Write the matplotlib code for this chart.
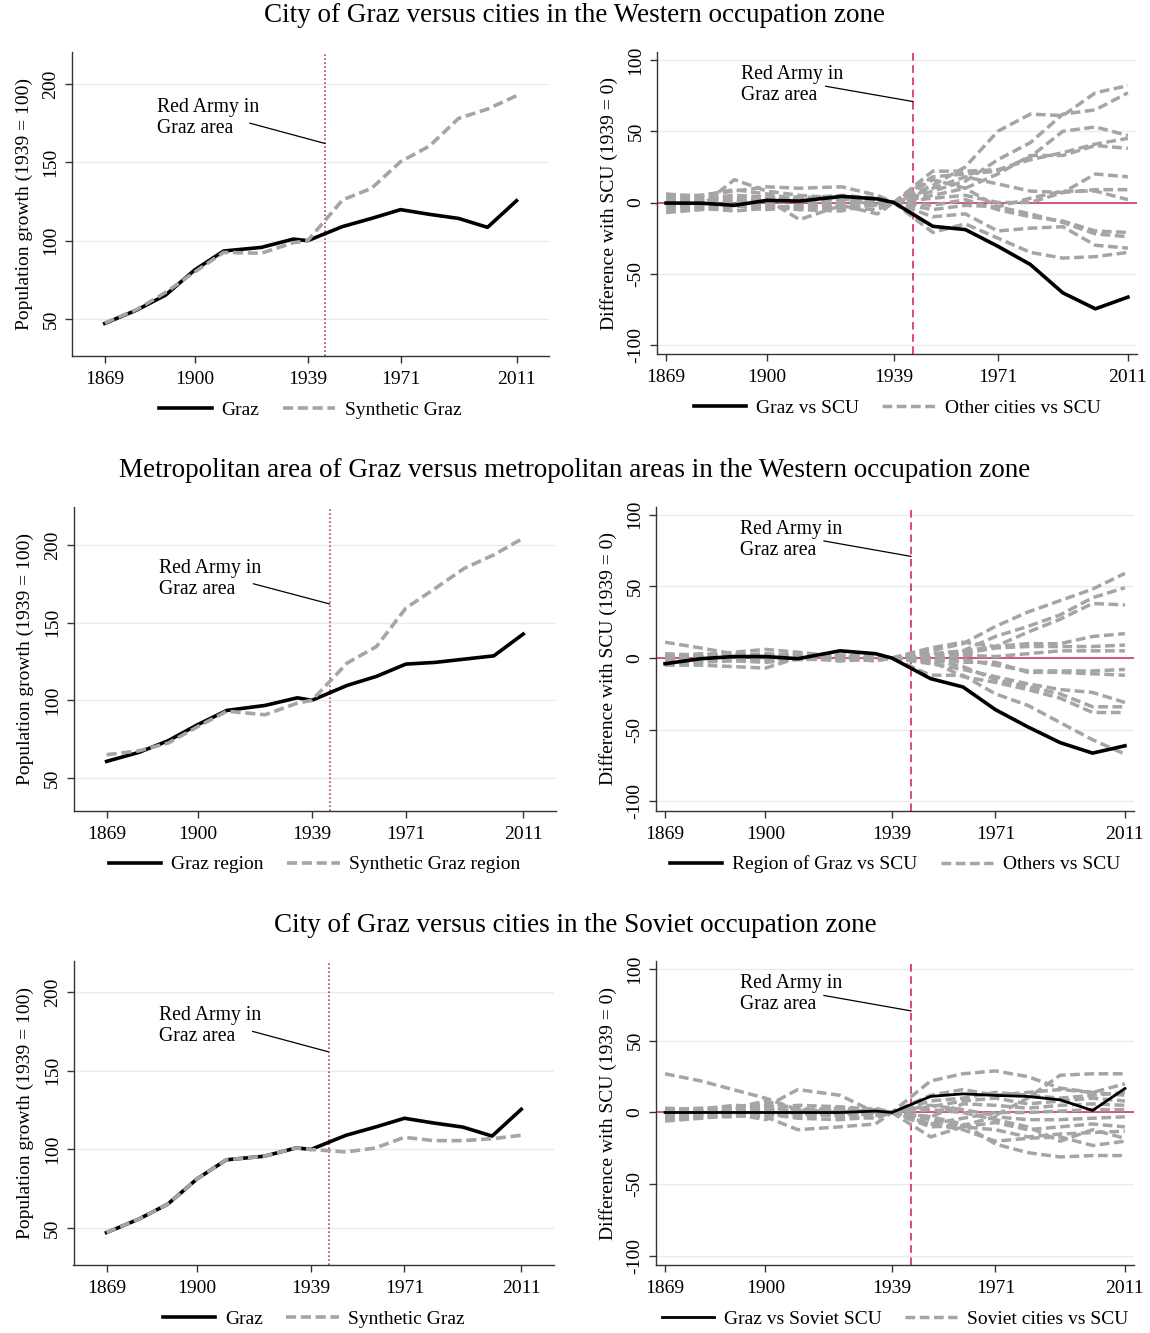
import matplotlib.pyplot as plt

plt.rcParams['font.family'] = ['Liberation Serif', 'DejaVu Serif']
plt.rcParams['font.size'] = 14

# census years
years = [1869, 1880, 1890, 1900, 1910, 1923, 1934, 1939, 1951, 1961, 1971, 1981, 1991, 2001, 2011]
year_ticks = [1869, 1900, 1939, 1971, 2011]
red_army = 1945

# population index (1939 = 100)
graz_city = [47.2, 55.7, 65.3, 81.3, 93.4, 95.7, 101.0, 100, 109.0, 114.2, 119.8, 116.8, 114.2, 108.5, 125.5]
synth_city_west = [47.5, 56.0, 67.0, 80.0, 92.5, 92.0, 98.7, 100, 126.0, 133.4, 150.4, 160.4, 178.0, 184.0, 192.5]
graz_region = [60.7, 66.5, 74.0, 84.3, 93.5, 96.7, 101.6, 100, 109.6, 115.4, 123.3, 124.4, 126.5, 128.6, 142.6]
synth_region = [65.0, 67.5, 72.5, 83.0, 93.0, 90.7, 98.2, 100, 124.0, 134.6, 159.3, 172.0, 185.0, 193.6, 204.3]
synth_city_soviet = [47.2, 55.7, 65.3, 81.3, 93.4, 95.7, 101.0, 100, 98.4, 100.9, 107.7, 105.6, 105.6, 106.8, 109.0]

# gaps to synthetic control units (1939 = 0)
graz_gap_west = [-0.4, -0.5, -2.0, 1.5, 1.0, 4.3, 2.5, 0, -16.7, -19.0, -30.7, -43.5, -63.4, -74.6, -66.4]
others_gap_west = [
    [2, 3, 5, 4, 3, 2, 1, 0, 12, 25, 50, 62, 61, 77, 82],
    [-3, -2, 16, 8, 5, 3, -2, 0, 8, 15, 30, 42, 62, 65, 77],
    [5, 5, 8, 11, 10, 11, 5, 0, 18, 20, 22, 32, 50, 53, 47],
    [-7, -5, -3, -2, -4, -3, -2, 0, 22, 22, 23, 30, 35, 41, 45],
    [0, 2, 4, 2, -12, -2, -8, 0, 5, 10, 20, 33, 33, 40, 38],
    [3, 1, 0, -3, -5, -6, 2, 0, 10, 18, 13, 8, 7, 20, 18],
    [-2, -4, -1, 3, 4, 2, -1, 0, 3, 5, 0, 0, 7, 9, 9],
    [6, 4, 2, 1, 3, 5, 3, 0, 16, 10, -3, 3, 8, 8, 2],
    [1, 0, -2, -5, -3, 0, 1, 0, -2, 2, -5, -10, -13, -20, -21],
    [-5, -4, -6, -4, -2, -4, -5, 0, -5, -2, -3, -8, -14, -22, -24],
    [3, 5, 9, 6, 2, -1, 0, 0, -10, -8, -20, -18, -17, -30, -32],
    [-1, -2, 2, 0, 1, -3, -2, 0, -21, -15, -25, -35, -39, -38, -35],
]

region_gap_west = [-4.0, -0.5, 1.0, 1.0, -0.5, 5.0, 3.0, 0, -14.4, -20.2, -36.0, -48.0, -59.0, -66.3, -61.2]
others_gap_region = [
    [11, 7, 3, 0, -1, 0, 0, 0, 5, 10, 22, 32, 40, 48, 59],
    [-5, -5, -6, -7, 0, 1, 0, 0, 3, 5, 15, 22, 30, 42, 49],
    [0, 2, 4, 6, 4, 1, -1, 0, 7, 11, 8, 18, 27, 38, 37],
    [-2, 0, 2, 3, 2, -2, -1, 0, 2, 5, 8, 10, 10, 15, 17],
    [2, 1, 0, -1, 0, 1, 2, 0, 0, 3, 7, 8, 8, 8, 9],
    [-3, -2, -1, -2, -1, 0, -2, 0, -2, 2, 1, 3, 5, 5, 5],
    [1, 3, 2, 1, 3, 2, 1, 0, -3, -1, -5, -9, -9, -9, -8],
    [-4, -3, -2, -3, -1, -1, 0, 0, 0, -3, -3, -10, -10, -11, -12],
    [0, 0, 1, 2, 1, 2, 1, 0, -4, -8, -13, -18, -22, -24, -31],
    [-1, 1, -1, 0, 2, 0, -2, 0, -1, -6, -15, -20, -25, -34, -34],
    [3, 2, 1, 2, 0, -2, 1, 0, -2, -13, -17, -22, -28, -38, -38],
    [-2, -1, 0, 1, 0, 1, 0, 0, -12, -12, -25, -33, -45, -57, -67],
]

graz_gap_soviet = [0, 0, 0, 0, 0, 0, 1, 0, 11.2, 13.0, 11.9, 11.2, 8.8, 1.4, 16.7]
others_gap_soviet = [
    [27, 22, 16, 10, 2, 0, 2, 0, 22, 27, 29, 25, 17, 14, 12],
    [1, 2, 5, 4, 16, 12, 0, 0, 5, 2, -2, 10, 26, 27, 27],
    [-5, -4, -2, -3, -12, -10, -8, 0, 12, 16, 12, 14, 16, 14, 20],
    [0, 1, 3, 8, 2, 3, 1, 0, 8, 10, 14, 12, 10, 12, 14],
    [-3, -2, 2, 5, 0, -2, -1, 0, 4, 8, 10, 6, 8, 10, 8],
    [2, 3, 4, 6, -2, 1, 3, 0, -3, 6, 5, 3, 5, 6, 5],
    [-6, -4, -1, -5, 3, 0, -2, 0, -8, -4, 0, 0, 1, 2, 2],
    [1, 0, -2, 0, -3, -1, 2, 0, -10, -9, -3, -5, -5, -4, -3],
    [-2, -1, 2, 3, 5, 4, 2, 0, -5, -10, -7, -12, -10, -8, -10],
    [3, 2, 0, -2, 0, -3, -4, 0, -17, -10, -12, -17, -15, -14, -13],
    [-4, -3, -3, -1, -4, -5, -3, 0, -8, -12, -20, -18, -17, -23, -20],
    [0, 1, 1, 2, 1, 2, 0, 0, -3, -8, -22, -28, -31, -30, -30],
    [-1, -2, 0, 2, -1, 1, -1, 0, 2, 0, -5, -10, -20, -12, -18],
]

titles = [
    'City of Graz versus cities in the Western occupation zone',
    'Metropolitan area of Graz versus metropolitan areas in the Western occupation zone',
    'City of Graz versus cities in the Soviet occupation zone',
]

W, H = 1150, 1333
GRAY = '#a5a5a5'
GRID = '#e3eef0'
SPINE = '#333333'
DASH = (0, (2.8, 1.3))
FS = 14

fig = plt.figure(figsize=(W / 100, H / 100), dpi=100)


def add_axes(x0, y0, x1, y1):
    return fig.add_axes([x0 / W, 1 - y1 / H, (x1 - x0) / W, (y1 - y0) / H])


def style_axes(ax, xlim, ylim, yticks, ylabel):
    ax.set_xlim(*xlim)
    ax.set_ylim(*ylim)
    ax.set_xticks(year_ticks)
    ax.set_yticks(yticks)
    ax.set_yticklabels([str(t) for t in yticks], rotation=90, va='center')
    ax.tick_params(direction='out', length=5, width=1, color=SPINE, labelsize=FS, pad=4)
    ax.tick_params(axis='x', pad=6)
    for side in ('top', 'right'):
        ax.spines[side].set_visible(False)
    for side in ('left', 'bottom'):
        ax.spines[side].set_color(SPINE)
        ax.spines[side].set_linewidth(1)
    ax.grid(axis='y', color=GRID, lw=1)
    ax.set_axisbelow(True)
    ax.set_ylabel(ylabel, fontsize=FS, labelpad=7)


def add_legend(ax, handles, labels, top, bottom):
    y = 1 - (bottom + 54 - top) / (bottom - top)
    ax.legend(handles, labels, loc='center', bbox_to_anchor=(0.5, y), ncol=2, frameon=False,
              fontsize=FS, handlelength=2.7, handletextpad=0.5, columnspacing=1.2)


def left_panel(ax_box, actual, synth, ylim, labels):
    x0, y0, x1, y1 = ax_box
    ax = add_axes(*ax_box)
    style_axes(ax, (1857.7, 2022.2), ylim, [50, 100, 150, 200], 'Population growth (1939 = 100)')
    ax.axvline(red_army, color='#b5474b', lw=1.2, ls=(0, (1, 1.4)))
    h1, = ax.plot(years, actual, color='black', lw=2.6)
    h2, = ax.plot(years, synth, color=GRAY, lw=2.6, ls=DASH)
    ax.text(1887, 178.3, 'Red Army in\nGraz area', ha='left', va='center', fontsize=14.2, linespacing=1.15)
    ax.annotate('', xy=(red_army, 162), xytext=(1919, 175),
                arrowprops=dict(arrowstyle='-', color='black', lw=0.9, shrinkA=0, shrinkB=0))
    add_legend(ax, [h1, h2], labels, y0, y1)
    return ax


def right_panel(ax_box, actual, others, labels, black_lw=2.6):
    x0, y0, x1, y1 = ax_box
    ax = add_axes(*ax_box)
    style_axes(ax, (1866.2, 2013.8), (-106.3, 105.6), [-100, -50, 0, 50, 100],
               'Difference with SCU (1939 = 0)')
    ax.axhline(0, color='#cc3a60', lw=1.2)
    ax.axvline(red_army, color='#d41a45', lw=1.1, ls=(0, (5, 3)))
    gray = None
    for series in others:
        gray, = ax.plot(years, series, color=GRAY, lw=2.5, ls=DASH)
    h1, = ax.plot(years, actual, color='black', lw=black_lw)
    ax.text(1892, 82.4, 'Red Army in\nGraz area', ha='left', va='center', fontsize=14.2, linespacing=1.15)
    ax.annotate('', xy=(red_army, 70.8), xytext=(1918, 81.6),
                arrowprops=dict(arrowstyle='-', color='black', lw=0.9, shrinkA=0, shrinkB=0))
    add_legend(ax, [h1, gray], labels, y0, y1)
    return ax


row_tops = [16, 470.5, 925]
for r, t in enumerate(row_tops):
    fig.text(0.5, 1 - t / H, titles[r], ha='center', va='center', fontsize=19.5)

left_panel((72, 52, 549, 356), graz_city, synth_city_west, (26.4, 220.4), ['Graz', 'Synthetic Graz'])
right_panel((657, 52, 1137, 354), graz_gap_west, others_gap_west, ['Graz vs SCU', 'Other cities vs SCU'])

left_panel((73.5, 506.5, 556, 810.5), graz_region, synth_region, (29.1, 224.7),
           ['Graz region', 'Synthetic Graz region'])
right_panel((656, 506.5, 1134, 810.5), region_gap_west, others_gap_region,
            ['Region of Graz vs SCU', 'Others vs SCU'])

left_panel((73.5, 961, 554, 1265), graz_city, synth_city_soviet, (26.6, 219.7), ['Graz', 'Synthetic Graz'])
right_panel((656, 961, 1134, 1265), graz_gap_soviet, others_gap_soviet,
            ['Graz vs Soviet SCU', 'Soviet cities vs SCU'], black_lw=2.0)

fig.savefig('out.png', dpi=100, facecolor='white')
